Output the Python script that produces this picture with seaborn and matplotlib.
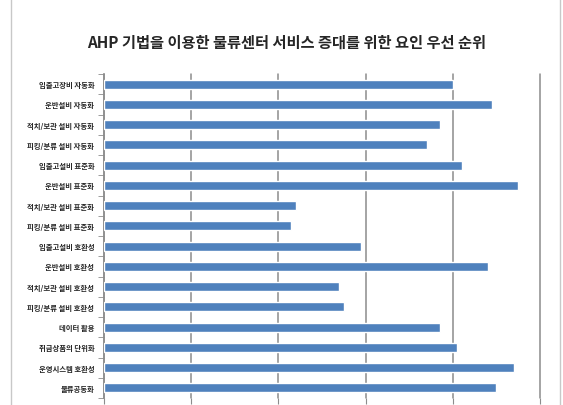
import numpy as np
import pandas as pd
import matplotlib.pyplot as plt
import seaborn as sns
from matplotlib.patches import Rectangle

# 요인 이름 (위에서 아래 순서)
factors = [
    '입출고장비 자동화', '운반설비 자동화', '적치/보관 설비 자동화', '피킹/분류 설비 자동화',
    '입출고설비 표준화', '운반설비 표준화', '적치/보관 설비 표준화', '피킹/분류 설비 표준화',
    '입출고설비 호환성', '운반설비 호환성', '적치/보관 설비 호환성', '피킹/분류 설비 호환성',
    '데이터 활용', '취급상품의 단위화', '운영시스템 호환성', '물류공동화',
]
# 가중치
weights = [0.080, 0.089, 0.077, 0.074, 0.082, 0.095, 0.044, 0.043,
           0.059, 0.088, 0.054, 0.055, 0.077, 0.081, 0.094, 0.090]

df = pd.DataFrame({'factor': factors, 'weight': weights})

sns.set_style('white')
plt.rcParams['font.family'] = ['Noto Sans CJK KR', 'DejaVu Sans']

fig = plt.figure(figsize=(5.63, 4.06), dpi=100)
fig.patch.set_facecolor('white')

# 차트 영역 테두리
fig.patches.append(Rectangle((11 / 563, -0.01), 549 / 563, 1.2, transform=fig.transFigure,
                             fill=False, edgecolor='#c8c8c8', linewidth=1))

ax = fig.add_axes([104 / 563, 1 - 399 / 406, 436 / 563, 324 / 406])
sns.barplot(data=df, y='factor', x='weight', orient='h', color='#4F81BD',
            saturation=1, width=0.45, ax=ax, zorder=3)

ax.set_xlim(0, 0.1)
ax.set_xticks(np.arange(0, 0.101, 0.02))
ax.set_xticklabels([])
ax.grid(axis='x', color='#8c8c8c', linewidth=1.1, zorder=0)
for gl in ax.get_xgridlines():
    gl.set_clip_on(False)
ax.set_xlabel('')
ax.set_ylabel('')

for s in ['top', 'right', 'bottom']:
    ax.spines[s].set_visible(False)
ax.spines['left'].set_color('#8c8c8c')
ax.spines['left'].set_linewidth(1.1)

# 카테고리 경계 눈금
ax.set_yticks(np.arange(-0.5, len(factors), 1), minor=True)
ax.tick_params(axis='y', which='minor', length=4, color='#8c8c8c', left=True)
ax.tick_params(axis='y', which='major', length=0, labelsize=5.3, pad=7)
ax.tick_params(axis='x', length=4, color='#8c8c8c', bottom=True)
for lbl in ax.get_yticklabels():
    lbl.set_fontweight('bold')

fig.text(0.509, 1 - 43 / 406, 'AHP 기법을 이용한 물류센터 서비스 증대를 위한 요인 우선 순위',
         ha='center', va='center', fontsize=11, fontweight='bold')

fig.savefig('out.png', dpi=100)
